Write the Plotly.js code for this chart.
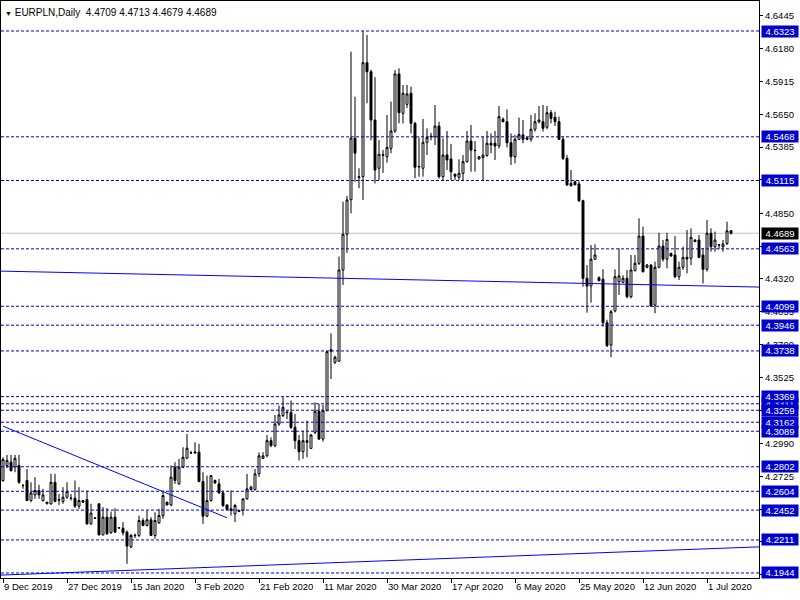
<!DOCTYPE html>
<html>
<head>
<meta charset="utf-8">
<script src="https://cdn.plot.ly/plotly-3.0.1.min.js"></script>
<style>html,body{margin:0;padding:0;background:#fff;}#chart{width:800px;height:600px;}</style>
</head>
<body>
<div id="chart"></div>
<script>
// ---- Daily OHLC, EURPLN, 9 Dec 2019 .. 8 Jul 2020 (Sun-Fri sessions) ----
const open = [
4.2690,4.2812,4.2839,4.2800,4.2812,4.2651,4.2691,4.2529,4.2575,4.2610,
4.2529,4.2503,4.2503,4.2677,4.2537,4.2521,4.2556,4.2550,4.2548,4.2484,
4.2529,4.2537,4.2341,4.2389,4.2503,4.2252,4.2395,4.2269,4.2395,4.2310,
4.2306,4.2274,4.2153,4.2245,4.2247,4.2368,4.2328,4.2374,4.2247,4.2349,
4.2408,4.2516,4.2494,4.2798,4.2664,4.2798,4.2871,4.2916,4.2914,4.2920,
4.2683,4.2403,4.2529,4.2691,4.2664,4.2591,4.2494,4.2462,4.2422,4.2449,
4.2449,4.2543,4.2618,4.2618,4.2745,4.2870,4.2891,4.3013,4.2973,4.3148,
4.3216,4.3244,4.3242,4.3121,4.3013,4.2924,4.3013,4.2951,4.3080,4.3250,
4.3026,4.3256,4.3735,4.3646,4.3655,4.4392,4.4681,4.4960,4.5456,4.5138,
4.5146,4.6067,4.5994,4.5604,4.5214,4.5318,4.5307,4.5375,4.5515,4.5976,
4.5658,4.5730,4.5820,4.5577,4.5224,4.5214,4.5424,4.5468,4.5468,4.5555,
4.5146,4.5321,4.5289,4.5165,4.5141,4.5173,4.5267,4.5434,4.5360,4.5289,
4.5300,4.5318,4.5416,4.5416,4.5394,4.5610,4.5590,4.5420,4.5307,4.5448,
4.5483,4.5460,4.5448,4.5529,4.5590,4.5590,4.5545,4.5663,4.5626,4.5590,
4.5448,4.5294,4.5073,4.5105,4.5087,4.4952,4.4325,4.4263,4.4479,4.4330,
4.4317,4.3966,4.3786,4.4061,4.4298,4.4293,4.4325,4.4176,4.4387,4.4446,
4.4666,4.4414,4.4432,4.4109,4.4414,4.4585,4.4479,4.4527,4.4513,4.4338,
4.4414,4.4494,4.4487,4.4634,4.4634,4.4513,4.4397,4.4689,4.4580,4.4596,
4.4580,4.4607,4.4709
];
const high = [
4.2879,4.2898,4.2898,4.2898,4.2898,4.2664,4.2785,4.2677,4.2718,4.2656,
4.2624,4.2518,4.2745,4.2745,4.2583,4.2637,4.2677,4.2583,4.2691,4.2637,
4.2535,4.2610,4.2503,4.2395,4.2505,4.2476,4.2468,4.2441,4.2468,4.2315,
4.2355,4.2287,4.2261,4.2261,4.2408,4.2387,4.2449,4.2395,4.2435,4.2462,
4.2610,4.2520,4.2812,4.2839,4.2866,4.2960,4.3067,4.2930,4.3000,4.2987,
4.2758,4.2731,4.2737,4.2699,4.2704,4.2610,4.2496,4.2610,4.2503,4.2455,
4.2545,4.2745,4.2650,4.2785,4.2918,4.2920,4.3059,4.3040,4.3221,4.3297,
4.3364,4.3256,4.3337,4.3229,4.3059,4.3094,4.3175,4.3067,4.3323,4.3310,
4.3302,4.3735,4.3880,4.3700,4.4500,4.4944,4.4990,4.6156,4.5792,4.5214,
4.6323,4.6291,4.6010,4.5950,4.5442,4.5362,4.5644,4.5752,4.6008,4.6022,
4.5887,4.5887,4.5873,4.5590,4.5463,4.5612,4.5537,4.5500,4.5725,4.5590,
4.5456,4.5515,4.5410,4.5172,4.5286,4.5321,4.5515,4.5564,4.5434,4.5310,
4.5469,4.5515,4.5496,4.5515,4.5717,4.5625,4.5690,4.5496,4.5483,4.5623,
4.5604,4.5465,4.5644,4.5658,4.5717,4.5725,4.5717,4.5685,4.5671,4.5631,
4.5470,4.5320,4.5200,4.5115,4.5110,4.4960,4.4432,4.4594,4.4600,4.4340,
4.4398,4.3990,4.4070,4.4398,4.4567,4.4350,4.4392,4.4513,4.4513,4.4810,
4.4742,4.4440,4.4440,4.4459,4.4693,4.4634,4.4693,4.4530,4.4666,4.4459,
4.4580,4.4715,4.4729,4.4640,4.4675,4.4570,4.4796,4.4729,4.4702,4.4600,
4.4634,4.4782,4.4713
];
const low = [
4.2683,4.2790,4.2763,4.2758,4.2664,4.2624,4.2529,4.2516,4.2543,4.2543,
4.2521,4.2500,4.2494,4.2516,4.2494,4.2503,4.2543,4.2529,4.2468,4.2462,
4.2510,4.2333,4.2333,4.2380,4.2247,4.2247,4.2252,4.2261,4.2269,4.2300,
4.2247,4.2018,4.2145,4.2226,4.2234,4.2322,4.2320,4.2242,4.2220,4.2341,
4.2382,4.2490,4.2484,4.2664,4.2656,4.2790,4.2866,4.2905,4.2905,4.2677,
4.2341,4.2395,4.2521,4.2664,4.2583,4.2476,4.2455,4.2408,4.2355,4.2435,
4.2408,4.2537,4.2610,4.2610,4.2720,4.2865,4.2878,4.2960,4.2959,4.3132,
4.3202,4.3188,4.3107,4.2946,4.2852,4.2866,4.2879,4.2945,4.3067,4.3018,
4.3005,4.3250,4.3511,4.3633,4.3650,4.4271,4.4530,4.4850,4.5105,4.5052,
4.4958,4.5739,4.5440,4.5092,4.5119,4.5176,4.5259,4.5335,4.5500,4.5577,
4.5577,4.5700,4.5496,4.5133,4.5146,4.5146,4.5321,4.5440,4.5402,4.5130,
4.5119,4.5200,4.5119,4.5119,4.5119,4.5119,4.5260,4.5186,4.5186,4.5285,
4.5119,4.5307,4.5335,4.5281,4.5375,4.5585,4.5383,4.5241,4.5254,4.5442,
4.5416,4.5440,4.5429,4.5510,4.5577,4.5510,4.5529,4.5577,4.5555,4.5442,
4.5280,4.5073,4.5065,4.5075,4.4940,4.4257,4.4047,4.4128,4.4473,4.4300,
4.3934,4.3770,4.3687,4.4050,4.4190,4.4285,4.4163,4.4163,4.4380,4.4432,
4.4370,4.4405,4.4095,4.4042,4.4406,4.4459,4.4406,4.4500,4.4325,4.4311,
4.4392,4.4365,4.4432,4.4618,4.4487,4.4283,4.4379,4.4540,4.4540,4.4560,
4.4540,4.4594,4.4679
];
const close = [
4.2860,4.2852,4.2771,4.2871,4.2677,4.2650,4.2529,4.2591,4.2610,4.2575,
4.2575,4.2516,4.2677,4.2521,4.2533,4.2556,4.2602,4.2546,4.2484,4.2529,
4.2516,4.2341,4.2427,4.2386,4.2252,4.2395,4.2261,4.2395,4.2274,4.2308,
4.2269,4.2161,4.2247,4.2249,4.2368,4.2328,4.2374,4.2247,4.2368,4.2408,
4.2570,4.2494,4.2718,4.2691,4.2798,4.2879,4.2952,4.2914,4.2920,4.2683,
4.2403,4.2529,4.2731,4.2672,4.2591,4.2489,4.2457,4.2449,4.2489,4.2441,
4.2543,4.2624,4.2637,4.2745,4.2891,4.2890,4.3013,4.2973,4.3148,4.3221,
4.3283,4.3240,4.3121,4.3013,4.2924,4.3013,4.3000,4.3059,4.3250,4.3026,
4.3256,4.3732,4.3748,4.3687,4.4392,4.4681,4.4958,4.5458,4.5335,4.5145,
4.6067,4.5994,4.5604,4.5200,4.5327,4.5324,4.5383,4.5515,4.5976,4.5663,
4.5820,4.5815,4.5577,4.5222,4.5228,4.5424,4.5463,4.5472,4.5555,4.5146,
4.5321,4.5281,4.5186,4.5150,4.5173,4.5267,4.5434,4.5361,4.5358,4.5307,
4.5320,4.5416,4.5402,4.5394,4.5631,4.5590,4.5420,4.5307,4.5448,4.5488,
4.5448,4.5448,4.5529,4.5590,4.5604,4.5537,4.5663,4.5617,4.5590,4.5448,
4.5294,4.5079,4.5092,4.5081,4.4952,4.4325,4.4263,4.4479,4.4513,4.4306,
4.3966,4.3780,4.4055,4.4338,4.4344,4.4325,4.4176,4.4392,4.4446,4.4666,
4.4379,4.4432,4.4101,4.4414,4.4585,4.4479,4.4639,4.4505,4.4338,4.4414,
4.4494,4.4481,4.4656,4.4621,4.4494,4.4397,4.4689,4.4580,4.4634,4.4594,
4.4602,4.4709,4.4689
];

// horizontal level lines (dashed) and current price
const levels = [4.6323,4.5468,4.5115,4.4563,4.4099,4.3946,4.3738,4.3369,4.3311,4.3259,4.3162,4.3089,4.2802,4.2604,4.2452,4.2211,4.1944];
const lastPrice = 4.4689;

// trend lines: [bar index, price] endpoints
const trendTop = [[-0.5, 4.4383], [189, 4.4254]];
const trendFall = [[0, 4.3130], [56, 4.2390]];
const trendRise = [[-0.5, 4.1927], [189, 4.2155]];

// axis ticks (labels fully covered by level tags are left blank)
const yTickVals = [4.6445,4.6180,4.5915,4.5650,4.5385,4.5120,4.4850,4.4585,4.4320,4.4055,4.3790,4.3525,4.3260,4.2990,4.2725,4.2460,4.2195,4.1930];
const yTickText = ['4.6445','4.6180','4.5915','4.5650','4.5385','','4.4850','','4.4320','4.4055','4.3790','4.3525','','4.2990','4.2725','','4.2195','4.1930'];
const xTickDates = ['2019-12-09','2019-12-27','2020-01-15','2020-02-03','2020-02-21','2020-03-11','2020-03-30','2020-04-17','2020-05-06','2020-05-25','2020-06-12','2020-07-01'];
const xTickText = ['9 Dec 2019','27 Dec 2019','15 Jan 2020','3 Feb 2020','21 Feb 2020','11 Mar 2020','30 Mar 2020','17 Apr 2020','6 May 2020','25 May 2020','12 Jun 2020','1 Jul 2020'];

// session dates: Sunday..Friday
const dates = [];
{
  const d = new Date(Date.UTC(2019, 11, 9));
  while (dates.length < close.length) {
    if (d.getUTCDay() !== 6) dates.push(d.toISOString().slice(0, 10));
    d.setUTCDate(d.getUTCDate() + 1);
  }
}

const LVL = '#0000CD';
const TL = '#0000FF';
const FONT = 'Liberation Sans, Arial, sans-serif';

const shapes = [];
levels.forEach(v => shapes.push({type:'line', xref:'paper', yref:'y', x0:0, x1:1, y0:v, y1:v,
  line:{color:LVL, width:1, dash:'3px,2px'}, layer:'above'}));
shapes.push({type:'line', xref:'paper', yref:'y', x0:0, x1:1, y0:lastPrice, y1:lastPrice,
  line:{color:'#C0C0C0', width:1}, layer:'below'});
[trendTop, trendFall, trendRise].forEach(t => shapes.push({type:'line', xref:'x', yref:'y',
  x0:t[0][0], y0:t[0][1], x1:t[1][0], y1:t[1][1], line:{color:TL, width:1}, layer:'above'}));

const annotations = [];
const lvlOrder = levels.filter(v => v === 4.3311).concat(levels.filter(v => v !== 4.3311));
lvlOrder.forEach(v => annotations.push({xref:'paper', yref:'y', x:1, y:v, xanchor:'left', yanchor:'middle',
  xshift:2, text:v.toFixed(4), showarrow:false, bgcolor:LVL, borderpad:0, width:36, height:11,
  font:{family:FONT, size:9.5, color:'#FFFFFF'}}));
annotations.push({xref:'paper', yref:'y', x:1, y:lastPrice, xanchor:'left', yanchor:'middle',
  xshift:2, text:lastPrice.toFixed(4), showarrow:false, bgcolor:'#000000', borderpad:0, width:36, height:11,
  font:{family:FONT, size:9.5, color:'#FFFFFF'}});
annotations.push({xref:'paper', yref:'paper', x:0, y:1, xanchor:'left', yanchor:'top', xshift:2, yshift:-4,
  text:'<span style="font-size:7px">▼</span> EURPLN,Daily  ' + [open[open.length-1], high[high.length-1], low[low.length-1], close[close.length-1]].map(v=>v.toFixed(4)).join(' '),
  showarrow:false, font:{family:FONT, size:10, color:'#000000'}});

const trace = {
  type:'candlestick', x:dates, open:open, high:high, low:low, close:close,
  increasing:{line:{color:'#000000', width:1}, fillcolor:'#FFFFFF'},
  decreasing:{line:{color:'#000000', width:1}, fillcolor:'#000000'},
  whiskerwidth:0, hoverinfo:'skip', showlegend:false
};

const layout = {
  width:800, height:600,
  margin:{l:1, r:41, t:1, b:22, pad:0},
  paper_bgcolor:'#FFFFFF', plot_bgcolor:'#FFFFFF',
  showlegend:false,
  font:{family:FONT, size:9.5, color:'#000000'},
  xaxis:{type:'category', range:[-0.5, 189], rangeslider:{visible:false},
    showgrid:false, zeroline:false, showline:true, mirror:true, linecolor:'#000000', linewidth:1,
    ticks:'outside', ticklen:4, tickcolor:'#000000', tickvals:xTickDates, ticktext:xTickText,
    tickangle:0, ticklabelposition:'outside right', tickfont:{family:FONT, size:9.5, color:'#000000'}, fixedrange:true},
  yaxis:{side:'right', range:[4.19034, 4.65654], showgrid:false, zeroline:false,
    showline:true, mirror:true, linecolor:'#000000', linewidth:1,
    ticks:'outside', ticklen:3, tickcolor:'#000000', tickvals:yTickVals, ticktext:yTickText,
    tickfont:{family:FONT, size:9.5, color:'#000000'}, fixedrange:true},
  shapes:shapes, annotations:annotations
};

Plotly.newPlot('chart', [trace], layout, {staticPlot:true, displayModeBar:false});
</script>
</body>
</html>
